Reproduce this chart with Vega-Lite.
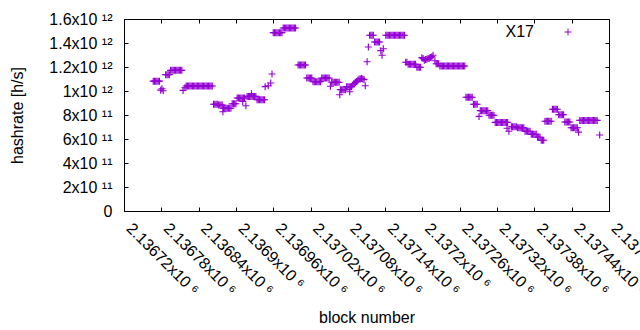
{
 "$schema": "https://vega.github.io/schema/vega-lite/v6.json",
 "width": 485, "height": 192,
 "autosize": {"type": "none"},
 "padding": {"left": 124, "top": 19, "right": 31, "bottom": 119},
 "background": "white",
 "config": {
  "view": {"stroke": null},
  "font": "Liberation Sans",
  "axis": {"labelFont": "Liberation Sans", "labelFontSize": 16, "labelColor": "black", "titleFont": "Liberation Sans", "titleFontSize": 16, "titleFontWeight": "normal", "titleColor": "black", "domainColor": "black", "tickColor": "black", "grid": false, "tickSize": -4, "domainWidth": 1, "tickWidth": 1}
 },
 "data": {"values": [
  {"b":2136767,"h":1.082e12},{"b":2136769,"h":1.082e12},{"b":2136771,"h":1.082e12},{"b":2136773,"h":1.082e12},{"b":2136775,"h":1.082e12},{"b":2136777,"h":1.082e12},
  {"b":2136779,"h":1.007e12},{"b":2136781,"h":1.019e12},{"b":2136783,"h":1.0025e12},
  {"b":2136787,"h":1.136e12},{"b":2136789,"h":1.136e12},{"b":2136791,"h":1.136e12},{"b":2136793,"h":1.136e12},
  {"b":2136795,"h":1.172e12},{"b":2136797,"h":1.172e12},{"b":2136799,"h":1.172e12},{"b":2136801,"h":1.172e12},{"b":2136803,"h":1.172e12},{"b":2136805,"h":1.172e12},{"b":2136807,"h":1.172e12},{"b":2136809,"h":1.172e12},{"b":2136811,"h":1.172e12},{"b":2136813,"h":1.172e12},
  {"b":2136815,"h":1.005e12},{"b":2136818,"h":1.0275e12},
  {"b":2136820,"h":1.042e12},{"b":2136822,"h":1.042e12},{"b":2136824,"h":1.042e12},{"b":2136826,"h":1.042e12},{"b":2136828,"h":1.042e12},{"b":2136830,"h":1.042e12},{"b":2136832,"h":1.042e12},{"b":2136834,"h":1.042e12},{"b":2136836,"h":1.042e12},{"b":2136838,"h":1.042e12},{"b":2136840,"h":1.042e12},{"b":2136842,"h":1.042e12},{"b":2136844,"h":1.042e12},{"b":2136846,"h":1.042e12},{"b":2136848,"h":1.042e12},{"b":2136850,"h":1.042e12},{"b":2136852,"h":1.042e12},{"b":2136854,"h":1.042e12},{"b":2136856,"h":1.042e12},{"b":2136858,"h":1.042e12},{"b":2136860,"h":1.042e12},{"b":2136862,"h":1.042e12},
  {"b":2136864,"h":8.9e11},{"b":2136866,"h":8.9e11},{"b":2136868,"h":8.9e11},{"b":2136870,"h":8.9e11},{"b":2136872,"h":8.83e11},{"b":2136874,"h":8.83e11},{"b":2136876,"h":8.83e11},{"b":2136878,"h":8.83e11},
  {"b":2136879,"h":8.275e11},
  {"b":2136880,"h":8.566e11},{"b":2136882,"h":8.566e11},{"b":2136884,"h":8.566e11},{"b":2136886,"h":8.566e11},{"b":2136888,"h":8.566e11},{"b":2136890,"h":8.566e11},{"b":2136892,"h":8.566e11},
  {"b":2136894,"h":8.94e11},{"b":2136896,"h":8.94e11},{"b":2136898,"h":8.94e11},{"b":2136900,"h":8.94e11},
  {"b":2136902,"h":9.416e11},{"b":2136904,"h":9.416e11},{"b":2136906,"h":9.416e11},{"b":2136908,"h":9.416e11},{"b":2136910,"h":9.416e11},{"b":2136912,"h":9.416e11},{"b":2136914,"h":9.416e11},
  {"b":2136911,"h":9.133e11},{"b":2136916,"h":8.775e11},
  {"b":2136918,"h":9.55e11},{"b":2136920,"h":9.55e11},{"b":2136922,"h":9.55e11},{"b":2136924,"h":9.55e11},{"b":2136926,"h":9.55e11},{"b":2136928,"h":9.55e11},{"b":2136930,"h":9.55e11},{"b":2136932,"h":9.55e11},{"b":2136925,"h":9.775e11},
  {"b":2136934,"h":9.275e11},{"b":2136936,"h":9.275e11},{"b":2136938,"h":9.275e11},{"b":2136940,"h":9.275e11},{"b":2136942,"h":9.275e11},{"b":2136944,"h":9.275e11},{"b":2136946,"h":9.275e11},
  {"b":2136947,"h":1.036e12},{"b":2136952,"h":1.044e12},{"b":2136956,"h":1.067e12},{"b":2136958,"h":1.142e12},
  {"b":2136960,"h":1.486e12},{"b":2136962,"h":1.486e12},{"b":2136964,"h":1.486e12},{"b":2136966,"h":1.486e12},{"b":2136968,"h":1.486e12},{"b":2136970,"h":1.486e12},{"b":2136972,"h":1.486e12},{"b":2136974,"h":1.486e12},
  {"b":2136976,"h":1.525e12},{"b":2136978,"h":1.525e12},{"b":2136980,"h":1.525e12},{"b":2136982,"h":1.525e12},{"b":2136984,"h":1.525e12},{"b":2136986,"h":1.525e12},{"b":2136988,"h":1.525e12},{"b":2136990,"h":1.525e12},{"b":2136992,"h":1.525e12},{"b":2136994,"h":1.525e12},{"b":2136996,"h":1.525e12},
  {"b":2137000,"h":1.217e12},{"b":2137002,"h":1.217e12},{"b":2137004,"h":1.217e12},{"b":2137006,"h":1.217e12},{"b":2137008,"h":1.217e12},{"b":2137010,"h":1.217e12},{"b":2137012,"h":1.217e12},
  {"b":2137014,"h":1.108e12},{"b":2137016,"h":1.108e12},{"b":2137018,"h":1.108e12},{"b":2137020,"h":1.108e12},{"b":2137022,"h":1.108e12},
  {"b":2137024,"h":1.0775e12},{"b":2137026,"h":1.0775e12},{"b":2137028,"h":1.0775e12},{"b":2137030,"h":1.0775e12},{"b":2137032,"h":1.0775e12},{"b":2137034,"h":1.0775e12},{"b":2137036,"h":1.0775e12},
  {"b":2137038,"h":1.108e12},{"b":2137040,"h":1.108e12},{"b":2137042,"h":1.108e12},{"b":2137044,"h":1.108e12},{"b":2137046,"h":1.108e12},{"b":2137048,"h":1.108e12},{"b":2137050,"h":1.108e12},
  {"b":2137052,"h":1.04e12},
  {"b":2137054,"h":1.073e12},{"b":2137056,"h":1.073e12},{"b":2137058,"h":1.073e12},{"b":2137060,"h":1.073e12},{"b":2137062,"h":1.073e12},{"b":2137064,"h":1.073e12},{"b":2137066,"h":1.073e12},
  {"b":2137067,"h":9.69e11},
  {"b":2137068,"h":1.011e12},{"b":2137070,"h":1.011e12},{"b":2137072,"h":1.011e12},{"b":2137074,"h":1.011e12},{"b":2137076,"h":1.011e12},
  {"b":2137078,"h":1.036e12},{"b":2137080,"h":1.036e12},{"b":2137082,"h":1.036e12},{"b":2137084,"h":1.036e12},{"b":2137086,"h":1.036e12},{"b":2137083,"h":9.94e11},
  {"b":2137088,"h":1.05e12},{"b":2137090,"h":1.06e12},{"b":2137092,"h":1.07e12},{"b":2137094,"h":1.08e12},{"b":2137096,"h":1.09e12},{"b":2137098,"h":1.1e12},{"b":2137100,"h":1.1e12},{"b":2137102,"h":1.105e12},{"b":2137104,"h":1.1e12},{"b":2137106,"h":1.095e12},
  {"b":2137108,"h":1.044e12},{"b":2137111,"h":1.244e12},{"b":2137113,"h":1.367e12},
  {"b":2137115,"h":1.465e12},{"b":2137117,"h":1.465e12},{"b":2137119,"h":1.465e12},{"b":2137121,"h":1.465e12},
  {"b":2137123,"h":1.408e12},{"b":2137125,"h":1.408e12},{"b":2137127,"h":1.408e12},{"b":2137129,"h":1.408e12},{"b":2137131,"h":1.408e12},
  {"b":2137133,"h":1.336e12},{"b":2137135,"h":1.298e12},{"b":2137137,"h":1.3525e12},
  {"b":2137141,"h":1.465e12},{"b":2137143,"h":1.465e12},{"b":2137145,"h":1.465e12},{"b":2137147,"h":1.465e12},{"b":2137149,"h":1.465e12},{"b":2137151,"h":1.465e12},{"b":2137153,"h":1.465e12},{"b":2137155,"h":1.465e12},{"b":2137157,"h":1.465e12},{"b":2137159,"h":1.465e12},{"b":2137161,"h":1.465e12},{"b":2137163,"h":1.465e12},{"b":2137165,"h":1.465e12},{"b":2137167,"h":1.465e12},{"b":2137169,"h":1.465e12},{"b":2137171,"h":1.465e12},
  {"b":2137173,"h":1.24e12},{"b":2137175,"h":1.24e12},
  {"b":2137177,"h":1.223e12},{"b":2137179,"h":1.223e12},{"b":2137181,"h":1.223e12},{"b":2137183,"h":1.223e12},{"b":2137185,"h":1.223e12},{"b":2137187,"h":1.223e12},{"b":2137189,"h":1.223e12},
  {"b":2137191,"h":1.198e12},{"b":2137193,"h":1.198e12},{"b":2137195,"h":1.198e12},{"b":2137197,"h":1.198e12},
  {"b":2137199,"h":1.278e12},{"b":2137201,"h":1.27e12},{"b":2137203,"h":1.257e12},{"b":2137205,"h":1.262e12},{"b":2137207,"h":1.265e12},{"b":2137209,"h":1.27e12},{"b":2137211,"h":1.273e12},{"b":2137213,"h":1.28e12},{"b":2137215,"h":1.286e12},{"b":2137217,"h":1.298e12},{"b":2137220,"h":1.2525e12},
  {"b":2137222,"h":1.2275e12},{"b":2137224,"h":1.2275e12},{"b":2137226,"h":1.2275e12},
  {"b":2137228,"h":1.208e12},{"b":2137230,"h":1.208e12},{"b":2137232,"h":1.208e12},{"b":2137234,"h":1.208e12},{"b":2137236,"h":1.208e12},{"b":2137238,"h":1.208e12},{"b":2137240,"h":1.208e12},{"b":2137242,"h":1.208e12},{"b":2137244,"h":1.208e12},{"b":2137246,"h":1.208e12},{"b":2137248,"h":1.208e12},{"b":2137250,"h":1.208e12},{"b":2137252,"h":1.208e12},{"b":2137254,"h":1.208e12},{"b":2137256,"h":1.208e12},{"b":2137258,"h":1.208e12},{"b":2137260,"h":1.208e12},{"b":2137262,"h":1.208e12},{"b":2137264,"h":1.208e12},{"b":2137266,"h":1.208e12},{"b":2137268,"h":1.208e12},
  {"b":2137270,"h":9.48e11},{"b":2137272,"h":9.48e11},{"b":2137274,"h":9.48e11},{"b":2137276,"h":9.48e11},{"b":2137278,"h":9.48e11},{"b":2137280,"h":9.48e11},
  {"b":2137282,"h":8.9e11},{"b":2137284,"h":8.9e11},{"b":2137286,"h":8.9e11},{"b":2137288,"h":8.9e11},
  {"b":2137291,"h":7.88e11},
  {"b":2137293,"h":8.36e11},{"b":2137295,"h":8.36e11},{"b":2137297,"h":8.36e11},{"b":2137299,"h":8.36e11},{"b":2137301,"h":8.36e11},{"b":2137303,"h":8.36e11},{"b":2137305,"h":8.36e11},
  {"b":2137307,"h":7.98e11},{"b":2137309,"h":7.98e11},{"b":2137311,"h":7.98e11},{"b":2137313,"h":7.98e11},{"b":2137315,"h":7.98e11},
  {"b":2137317,"h":7.38e11},{"b":2137319,"h":7.38e11},{"b":2137321,"h":7.38e11},{"b":2137323,"h":7.38e11},{"b":2137325,"h":7.38e11},{"b":2137327,"h":7.38e11},{"b":2137329,"h":7.38e11},{"b":2137331,"h":7.38e11},{"b":2137333,"h":7.38e11},{"b":2137335,"h":7.38e11},{"b":2137337,"h":7.38e11},
  {"b":2137336,"h":6.9e11},{"b":2137339,"h":6.65e11},
  {"b":2137343,"h":7.025e11},{"b":2137345,"h":7.025e11},{"b":2137347,"h":7.025e11},{"b":2137349,"h":7.025e11},{"b":2137351,"h":7.025e11},
  {"b":2137353,"h":6.94e11},{"b":2137355,"h":6.94e11},{"b":2137357,"h":6.94e11},{"b":2137359,"h":6.94e11},{"b":2137361,"h":6.94e11},{"b":2137363,"h":6.94e11},
  {"b":2137365,"h":6.65e11},{"b":2137367,"h":6.65e11},{"b":2137369,"h":6.65e11},{"b":2137371,"h":6.65e11},{"b":2137373,"h":6.65e11},
  {"b":2137375,"h":6.4e11},{"b":2137377,"h":6.4e11},{"b":2137379,"h":6.4e11},{"b":2137381,"h":6.4e11},{"b":2137383,"h":6.4e11},
  {"b":2137385,"h":6.15e11},{"b":2137387,"h":6.15e11},{"b":2137389,"h":6.15e11},
  {"b":2137391,"h":5.9e11},{"b":2137393,"h":5.9e11},{"b":2137395,"h":5.9e11},
  {"b":2137397,"h":7.48e11},{"b":2137399,"h":7.48e11},{"b":2137401,"h":7.48e11},{"b":2137403,"h":7.48e11},{"b":2137405,"h":7.48e11},{"b":2137407,"h":7.48e11},
  {"b":2137409,"h":8.48e11},{"b":2137411,"h":8.48e11},{"b":2137413,"h":8.48e11},{"b":2137415,"h":8.48e11},{"b":2137417,"h":8.48e11},
  {"b":2137419,"h":8.025e11},{"b":2137421,"h":8.025e11},{"b":2137423,"h":8.025e11},{"b":2137425,"h":8.025e11},{"b":2137427,"h":8.025e11},
  {"b":2137429,"h":7.42e11},{"b":2137431,"h":7.42e11},{"b":2137433,"h":7.42e11},{"b":2137435,"h":7.42e11},{"b":2137437,"h":7.42e11},
  {"b":2137439,"h":6.94e11},{"b":2137441,"h":6.94e11},{"b":2137443,"h":6.94e11},{"b":2137445,"h":6.94e11},{"b":2137447,"h":6.94e11},{"b":2137449,"h":6.94e11},
  {"b":2137451,"h":6.57e11},
  {"b":2137453,"h":7.55e11},{"b":2137455,"h":7.55e11},{"b":2137457,"h":7.55e11},{"b":2137459,"h":7.55e11},{"b":2137461,"h":7.55e11},{"b":2137463,"h":7.55e11},{"b":2137465,"h":7.55e11},{"b":2137467,"h":7.55e11},{"b":2137469,"h":7.55e11},{"b":2137471,"h":7.55e11},{"b":2137473,"h":7.55e11},{"b":2137475,"h":7.55e11},{"b":2137477,"h":7.55e11},{"b":2137479,"h":7.55e11},{"b":2137481,"h":7.55e11},
  {"b":2137485,"h":6.33e11}
 ]},
 "layer": [
  {
   "mark": {"type": "point", "shape": "M-1,0H1M0,-1V1", "size": 49, "strokeWidth": 1.15, "filled": false, "opacity": 1},
   "encoding": {
    "x": {"field": "b", "type": "quantitative",
     "scale": {"domain": [2136720, 2137500], "nice": false, "zero": false},
     "axis": {"orient": "bottom", "title": "block number",
      "values": [2136720,2136780,2136840,2136900,2136960,2137020,2137080,2137140,2137200,2137260,2137320,2137380,2137440,2137500],
      "labelExpr": "format(datum.value/1e6, '.6~r') + 'x10 ⁶'",
      "labelAngle": 45, "labelAlign": "left", "labelBaseline": "alphabetic", "labelPadding": 22, "labelOffset": 1,
      "labelOverlap": false, "labelFlush": false, "labelBound": false,
      "titleX": 242.5, "titleY": 111, "titleBaseline": "alphabetic"}},
    "y": {"field": "h", "type": "quantitative",
     "scale": {"domain": [0, 1.6e12], "nice": false},
     "axis": {"orient": "left", "title": "hashrate [h/s]",
      "values": [0, 2e11, 4e11, 6e11, 8e11, 1e12, 1.2e12, 1.4e12, 1.6e12],
      "labelExpr": "datum.value == 0 ? '0' : (datum.value >= 1e12 ? format(datum.value/1e12, '.2~r') + 'x10 ¹²' : format(datum.value/1e11, '.2~r') + 'x10 ¹¹')",
      "labelPadding": 16, "titleX": -102, "titleY": 96, "titleBaseline": "alphabetic", "titleAngle": -90}},
    "color": {"datum": "X17", "scale": {"range": ["#9400d3"]},
     "legend": {"orient": "none", "legendX": 436, "legendY": 5, "title": null, "labelAlign": "right", "labelOffset": -42,
      "symbolType": "M-1,0H1M0,-1V1", "symbolSize": 49, "symbolStrokeWidth": 1, "symbolStrokeColor": "#9400d3", "symbolFillColor": "transparent",
      "labelFontSize": 16, "labelFont": "Liberation Sans", "labelColor": "black", "padding": 0}}
   }
  },
  {
   "mark": {"type": "point", "opacity": 0},
   "encoding": {
    "x": {"field": "b", "type": "quantitative",
     "axis": {"orient": "top", "labels": false, "title": null,
      "values": [2136720,2136780,2136840,2136900,2136960,2137020,2137080,2137140,2137200,2137260,2137320,2137380,2137440,2137500]}},
    "y": {"field": "h", "type": "quantitative",
     "axis": {"orient": "right", "labels": false, "title": null,
      "values": [0, 2e11, 4e11, 6e11, 8e11, 1e12, 1.2e12, 1.4e12, 1.6e12]}}
   }
  }
 ],
 "resolve": {"axis": {"x": "independent", "y": "independent"}}
}
